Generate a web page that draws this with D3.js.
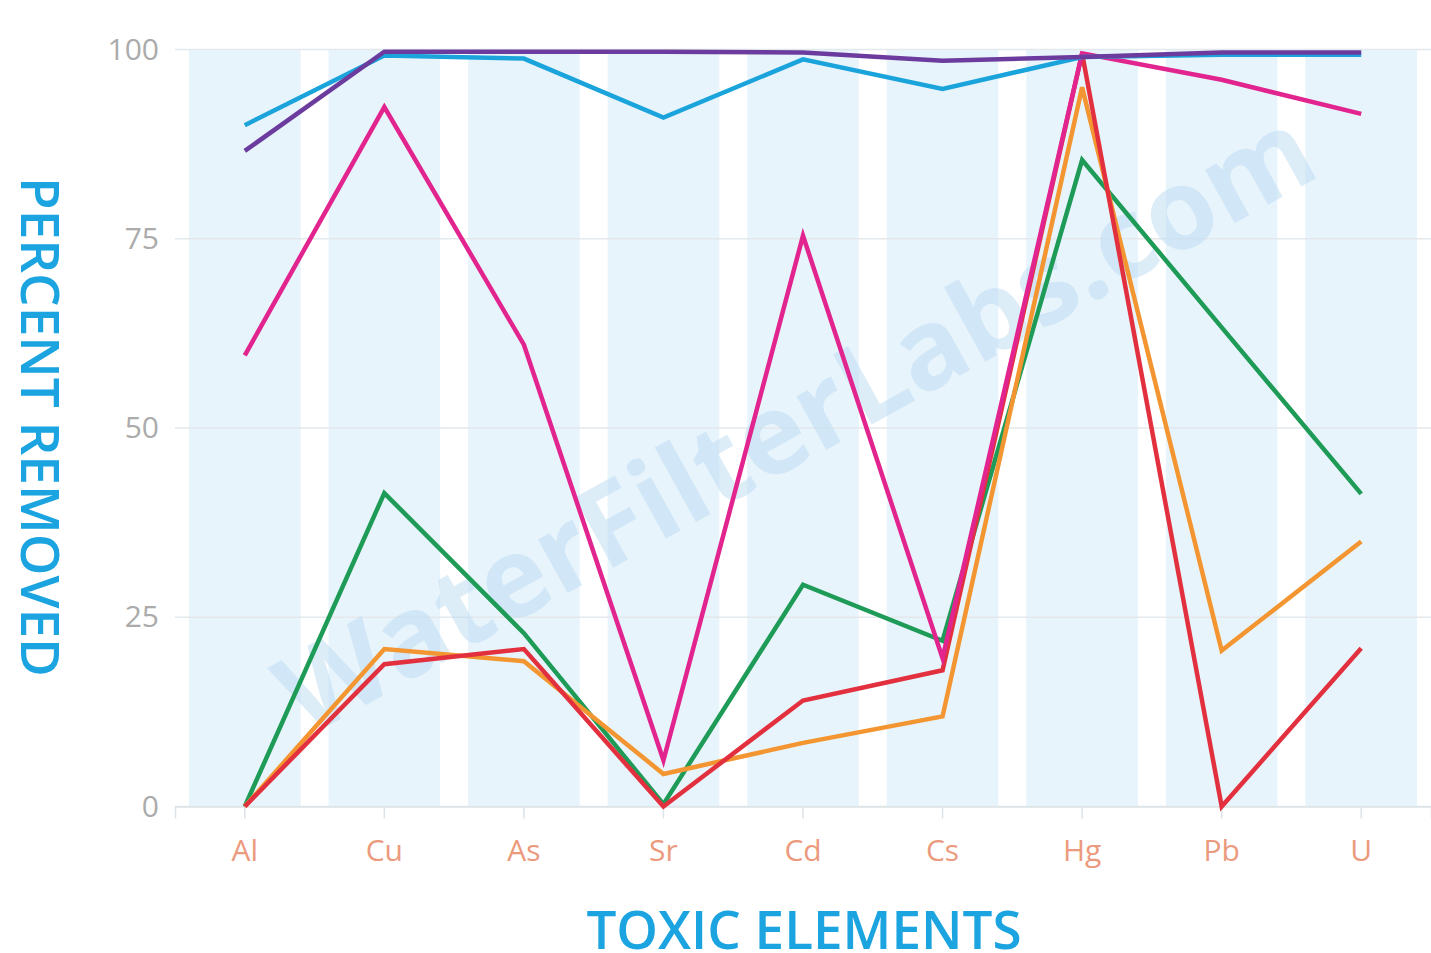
<!DOCTYPE html>
<html>
<head>
<meta charset="utf-8">
<script src="https://cdn.jsdelivr.net/npm/d3@7"></script>
<style>
  body { margin: 0; background: #fff; }
  svg { display: block; font-family: "Open Sans", sans-serif; }
</style>
</head>
<body>
<svg id="chart" width="1431" height="953"></svg>
<script>
// elements on the x axis
var elements = ["Al", "Cu", "As", "Sr", "Cd", "Cs", "Hg", "Pb", "U"];
var yTicks = [0, 25, 50, 75, 100];

// percent removed, one array per filter
var cyanVals    = [90.0, 99.2, 98.8, 91.0, 98.7, 94.8, 99.0, 99.3, 99.3];
var purpleVals  = [86.6, 99.7, 99.7, 99.7, 99.6, 98.5, 99.0, 99.6, 99.6];
var magentaVals = [59.6, 92.4, 61.0, 6.1, 75.4, 19.6, 99.5, 96.0, 91.5];
var greenVals   = [0, 41.4, 22.9, 0.3, 29.3, 21.9, 85.4, 63.3, 41.3];
var orangeVals  = [0, 20.8, 19.2, 4.3, 8.4, 11.9, 95.0, 20.6, 35.0];
var redVals     = [0, 18.8, 20.8, 0, 14.0, 18.0, 99.5, 0, 20.9];

var series = [
  {name: "green", color: "#1e9b57", values: greenVals},
  {name: "orange", color: "#f39530", values: orangeVals},
  {name: "red", color: "#e2303e", values: redVals},
  {name: "magenta", color: "#e2248f", values: magentaVals},
  {name: "cyan", color: "#1ba4dc", values: cyanVals},
  {name: "purple", color: "#6b3c9e", values: purpleVals}
];

// plot box
var plotLeft = 175, plotRight = 1431, plotTop = 49.5, plotBottom = 806.5;

var svg = d3.select("#chart");

var xScale = d3.scaleBand()
    .domain(elements)
    .range([plotLeft, plotRight]);

var yScale = d3.scaleLinear()
    .domain([0, 100])
    .range([plotBottom, plotTop]);

function cx(d) { return xScale(d) + xScale.bandwidth() / 2; }

// light blue column bands
svg.append("g").selectAll("rect")
    .data(elements)
    .enter().append("rect")
    .attr("x", function (d) { return xScale(d) + xScale.bandwidth() * 0.1; })
    .attr("y", plotTop)
    .attr("width", xScale.bandwidth() * 0.8)
    .attr("height", plotBottom - plotTop)
    .attr("fill", "#e8f4fc");

// grid lines
svg.append("g").selectAll("line")
    .data(yTicks)
    .enter().append("line")
    .attr("x1", plotLeft)
    .attr("x2", plotRight)
    .attr("y1", function (d) { return yScale(d); })
    .attr("y2", function (d) { return yScale(d); })
    .attr("stroke", "#e3e8ec")
    .attr("stroke-width", 1.5);

// watermark
svg.append("text")
    .attr("transform", "translate(800,430) rotate(-29)")
    .attr("text-anchor", "middle")
    .attr("dominant-baseline", "middle")
    .attr("font-size", 112)
    .attr("font-weight", "bold")
    .attr("fill", "#bcdcf3")
    .attr("opacity", 0.5)
    .text("WaterFilterLabs.com");

// x axis
var xAxis = svg.append("g")
    .attr("transform", "translate(0," + plotBottom + ")")
    .call(d3.axisBottom(xScale).tickSize(12).tickPadding(21));
xAxis.select(".domain").attr("stroke", "#dde3e8").attr("stroke-width", 1.5);
xAxis.selectAll(".tick line").attr("stroke", "#dde3e8").attr("stroke-width", 1.5);
xAxis.selectAll(".tick text")
    .attr("font-size", 30)
    .attr("font-family", "Open Sans")
    .attr("fill", "#ec9a7e");

// y axis
var yAxis = svg.append("g")
    .attr("transform", "translate(" + (plotLeft - 16) + ",0)")
    .call(d3.axisLeft(yScale).tickValues(yTicks).tickSize(0).tickPadding(0));
yAxis.select(".domain").remove();
yAxis.selectAll(".tick text")
    .attr("font-size", 30)
    .attr("font-family", "Open Sans")
    .attr("fill", "#ababab");

// lines
var line = d3.line()
    .x(function (d, i) { return cx(elements[i]); })
    .y(function (d) { return yScale(d); });

svg.append("g").selectAll("path")
    .data(series)
    .enter().append("path")
    .attr("d", function (d) { return line(d.values); })
    .attr("fill", "none")
    .attr("stroke", function (d) { return d.color; })
    .attr("stroke-width", 4.5)
    .attr("stroke-linejoin", "miter");

// axis titles
svg.append("text")
    .attr("transform", "translate(35,427) rotate(90)")
    .attr("text-anchor", "middle")
    .attr("dominant-baseline", "middle")
    .attr("font-size", 53)
    .attr("font-weight", 600)
    .attr("fill", "#1ba4e0")
    .text("PERCENT REMOVED");

svg.append("text")
    .attr("x", 804)
    .attr("y", 949)
    .attr("text-anchor", "middle")
    .attr("font-size", 53)
    .attr("font-weight", 600)
    .attr("fill", "#1ba4e0")
    .text("TOXIC ELEMENTS");
</script>
</body>
</html>
